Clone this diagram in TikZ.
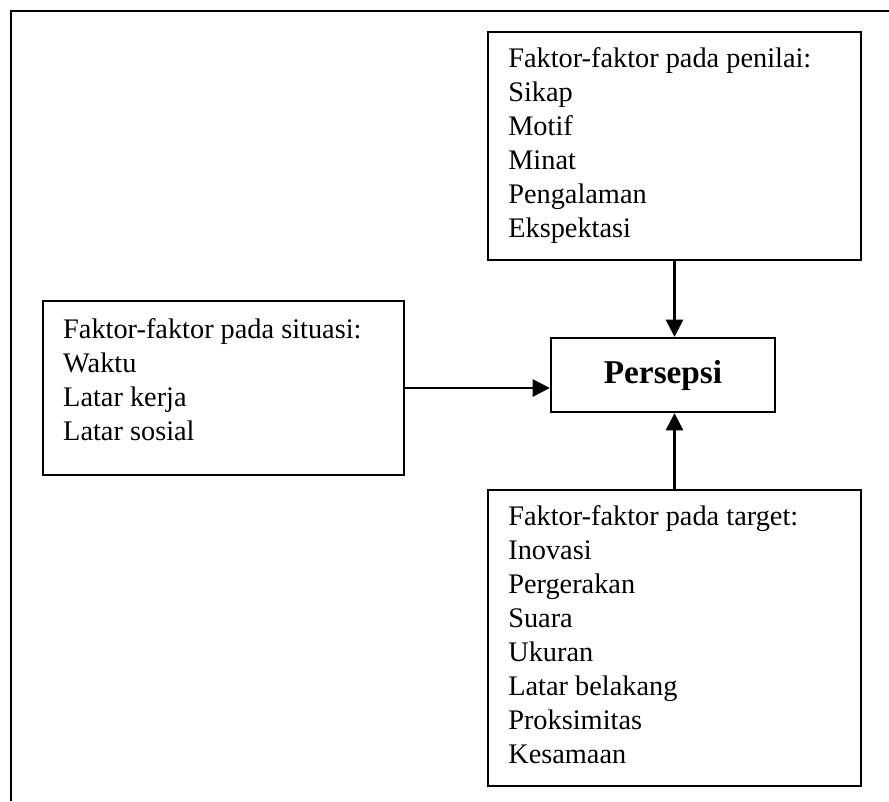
\documentclass[tikz,border=0pt]{standalone}
\usepackage{fontspec}
\setmainfont{Liberation Serif}
\usetikzlibrary{arrows.meta, positioning}

\begin{document}
\begin{tikzpicture}[x=0.406pt, y=-0.406pt,
    kotak/.style={draw, line width=1pt, inner sep=0pt},
    isi/.style={anchor=north west, inner sep=0pt, align=left,
      font=\fontsize{11.5}{13.8}\selectfont},
    panah/.style={line width=1pt, -{Triangle[length=7pt, width=7pt]}}]
  \useasboundingbox (0,0) rectangle (889,801);
  % bingkai luar
  \draw[line width=1.1pt] (11,801) -- (11,11) -- (889,11);
  % kotak-kotak
  \node[kotak, minimum width=151.4pt, minimum height=92.6pt] (penilai) at (674.5,146) {};
  \node[kotak, minimum width=90.9pt, minimum height=30pt,
    font=\fontsize{13.5}{14}\selectfont\bfseries] (persepsi) at (663,375) {Persepsi};
  \node[kotak, minimum width=146.6pt, minimum height=70.6pt] (situasi) at (223.5,388) {};
  \node[kotak, minimum width=151.4pt, minimum height=120.2pt] (target) at (674.5,638) {};
  % isi kotak
  \node[isi] (tpenilai) at ([shift={(21,16)}]penilai.north west)
    {Faktor-faktor pada penilai:\\Sikap\\Motif\\Minat\\Pengalaman\\Ekspektasi};
  \node[isi] (tsituasi) at ([shift={(21,18)}]situasi.north west)
    {Faktor-faktor pada situasi:\\Waktu\\Latar kerja\\Latar sosial};
  \node[isi] (ttarget) at ([shift={(21,16)}]target.north west)
    {Faktor-faktor pada target:\\Inovasi\\Pergerakan\\Suara\\Ukuran\\Latar belakang\\Proksimitas\\Kesamaan};
  % panah
  \draw[panah] (penilai.south) -- (penilai.south |- persepsi.north);
  \draw[panah] (situasi.east) -- (situasi.east -| persepsi.west);
  \draw[panah] (target.north) -- (target.north |- persepsi.south);
\end{tikzpicture}
\end{document}
